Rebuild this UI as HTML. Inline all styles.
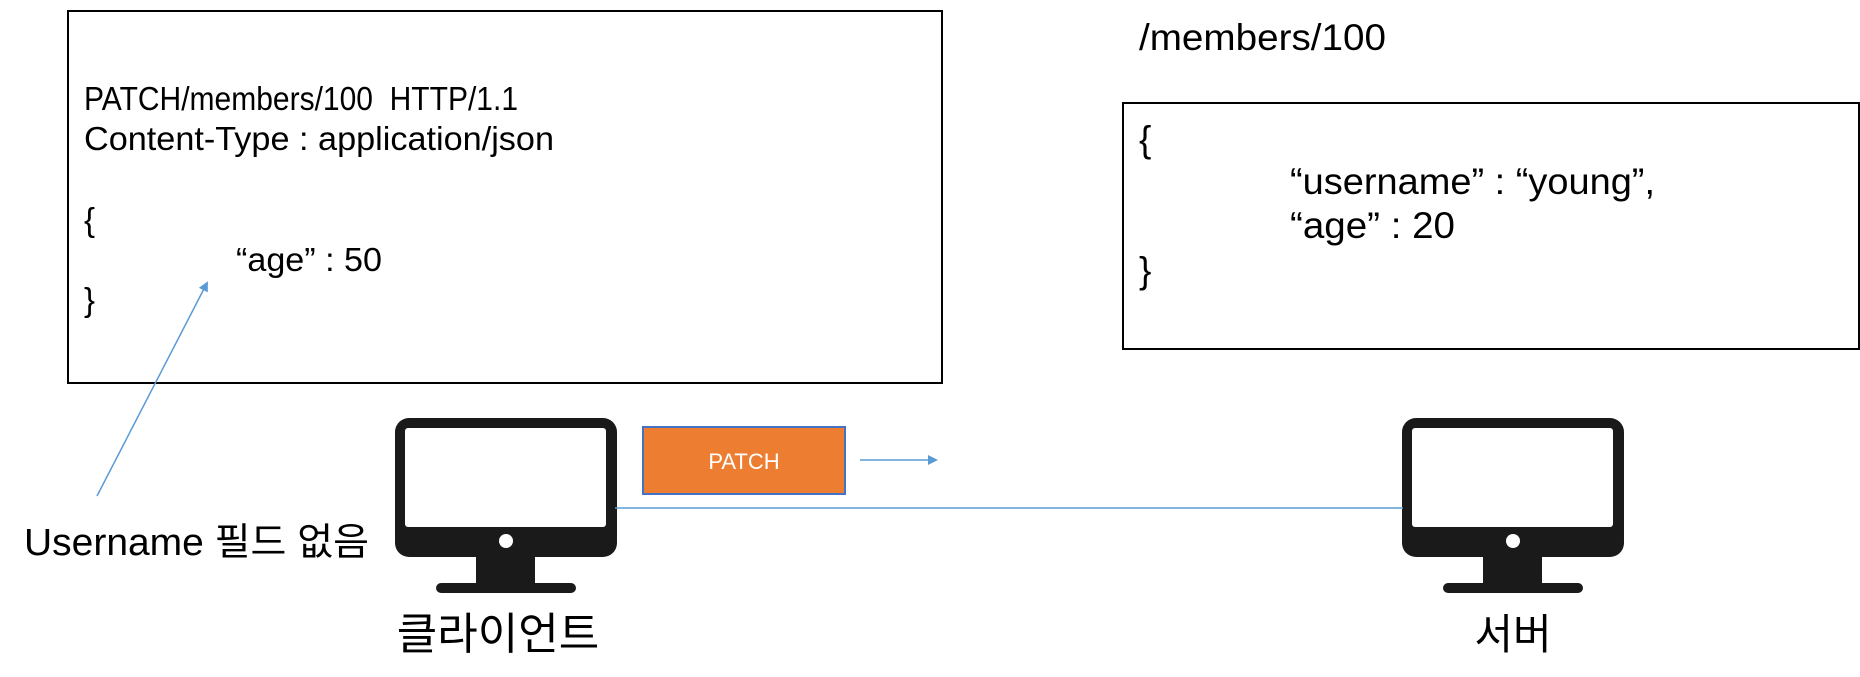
<!DOCTYPE html>
<html><head><meta charset="utf-8"><style>
html,body{margin:0;padding:0;background:#fff;}
svg{display:block;}
text{font-family:"Liberation Sans","Noto Sans CJK KR",sans-serif;fill:#000;}
</style></head><body>
<svg width="1860" height="677" viewBox="0 0 1860 677" xmlns="http://www.w3.org/2000/svg">
<defs>
<marker id="ah" markerWidth="10" markerHeight="10" refX="8" refY="5" orient="auto" markerUnits="userSpaceOnUse">
<path d="M0,0 L10,5 L0,10 z" fill="#5B9BD5"/>
</marker>
<g id="mon">
<rect x="0" y="0" width="222" height="139" rx="14" fill="#1a1a1a"/>
<rect x="10" y="10" width="201" height="99" rx="3" fill="#fff"/>
<circle cx="111" cy="123" r="7" fill="#fff"/>
<rect x="81" y="139" width="59" height="26" fill="#1a1a1a"/>
<rect x="41" y="165" width="140" height="10" rx="5" fill="#1a1a1a"/>
</g>
</defs>
<rect x="68" y="11" width="874" height="372" fill="none" stroke="#000" stroke-width="2"/>
<g font-size="33">
<text x="84" y="110" xml:space="preserve" textLength="434" lengthAdjust="spacingAndGlyphs">PATCH/members/100  HTTP/1.1</text>
<text x="84" y="150" textLength="470" lengthAdjust="spacingAndGlyphs">Content-Type : application/json</text>
<text x="84" y="231">{</text>
<text x="236" y="271" textLength="146" lengthAdjust="spacingAndGlyphs">“age” : 50</text>
<text x="84" y="311">}</text>
</g>
<text x="1139" y="50" font-size="37" textLength="247" lengthAdjust="spacingAndGlyphs">/members/100</text>
<rect x="1123" y="103" width="736" height="246" fill="none" stroke="#000" stroke-width="2"/>
<g font-size="37">
<text x="1139" y="152">{</text>
<text x="1290" y="194" textLength="365" lengthAdjust="spacingAndGlyphs">“username” : “young”,</text>
<text x="1290" y="238" textLength="165" lengthAdjust="spacingAndGlyphs">“age” : 20</text>
<text x="1139" y="283">}</text>
</g>
<line x1="97" y1="496" x2="207" y2="283" stroke="#5B9BD5" stroke-width="1.5" marker-end="url(#ah)"/>
<text x="24" y="555" font-size="38" textLength="345" lengthAdjust="spacingAndGlyphs">Username 필드 없음</text>
<use href="#mon" x="395" y="418"/>
<use href="#mon" x="1402" y="418"/>
<line x1="615" y1="508" x2="1403" y2="508" stroke="#5B9BD5" stroke-width="1.5"/>
<rect x="643" y="427" width="202" height="67" fill="#ED7D31" stroke="#4472C4" stroke-width="2"/>
<text x="744" y="469" font-size="22" text-anchor="middle" style="fill:#fff">PATCH</text>
<line x1="860" y1="460" x2="936" y2="460" stroke="#5B9BD5" stroke-width="1.5" marker-end="url(#ah)"/>
<text x="498" y="649" font-size="44" text-anchor="middle">클라이언트</text>
<text x="1513" y="649" font-size="42" text-anchor="middle">서버</text>
</svg>
</body></html>
